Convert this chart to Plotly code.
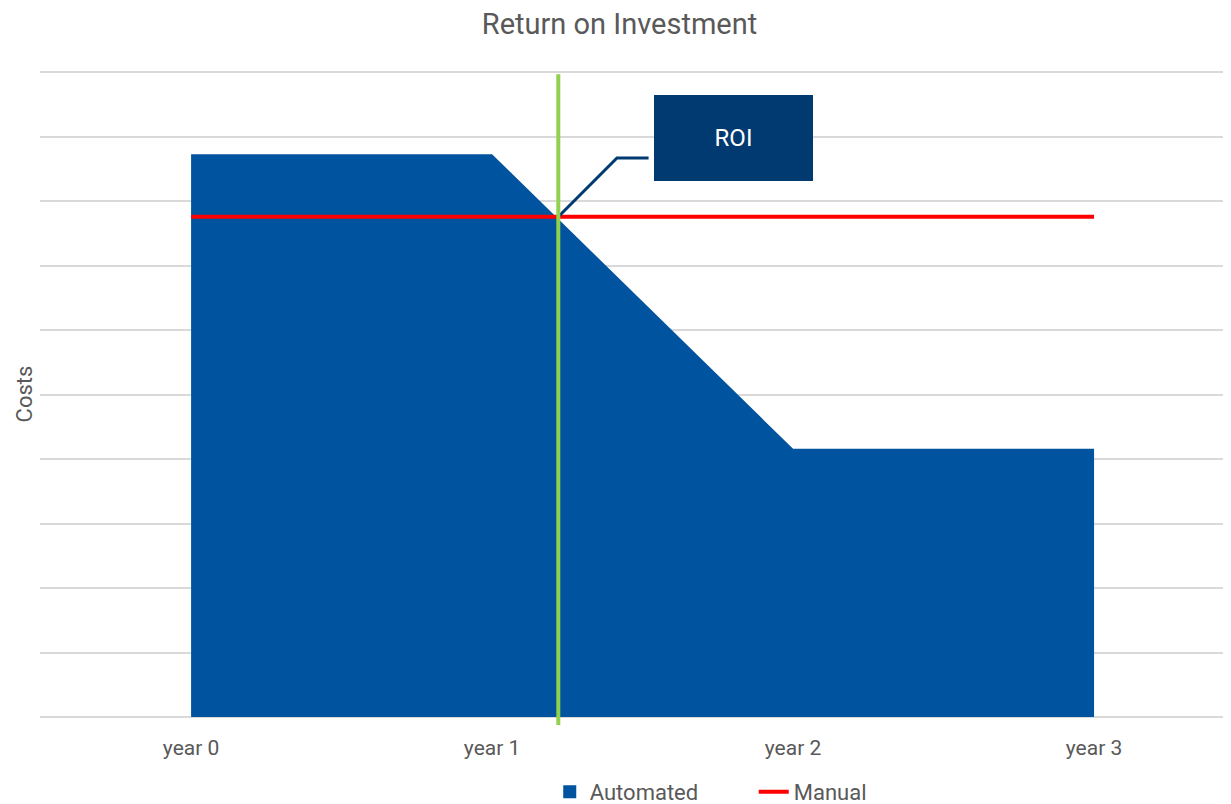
import plotly.graph_objects as go

years = ["year 0", "year 1", "year 2", "year 3"]
automated = [8.73, 8.73, 4.16, 4.16]
manual = [7.76, 7.76, 7.76, 7.76]
roi_x = 1.22
roi_label = "ROI"

xi = list(range(len(years)))
font = "Roboto"
gray = "#595959"
blue = "#00539F"

fig = go.Figure()
fig.add_trace(go.Scatter(
    x=xi, y=automated, name="Automated", mode="none",
    fill="tozeroy", fillcolor=blue, showlegend=False,
))
# legend entry for Automated (square swatch)
fig.add_trace(go.Scatter(
    x=[None], y=[None], name="Automated", mode="markers",
    marker=dict(symbol="square", size=13, color=blue),
))
fig.add_trace(go.Scatter(
    x=xi, y=manual, name="Manual", mode="lines",
    line=dict(color="#FF0000", width=4),
))
# ROI connector
fig.add_trace(go.Scatter(
    x=[roi_x, roi_x + 0.195, roi_x + 0.3], y=[manual[0], 8.67, 8.67],
    mode="lines", line=dict(color="#003A70", width=3), showlegend=False,
    hoverinfo="skip",
))

fig.add_shape(type="line", xref="x", yref="paper", x0=roi_x, x1=roi_x,
              y0=-0.0124, y1=0.995, line=dict(color="#92D050", width=4))

fig.add_annotation(x=roi_x + 0.582, y=8.98, xref="x", yref="y", text=roi_label,
                   showarrow=False, bgcolor="#003A70", width=157, height=84,
                   font=dict(family=font, size=24, color="white"),
                   borderpad=0, bordercolor="#003A70", borderwidth=1)

fig.update_layout(
    width=1223, height=796,
    margin=dict(l=32, r=0, t=63, b=87, autoexpand=False),
    paper_bgcolor="white", plot_bgcolor="white",
    title=dict(text="Return on Investment", x=0.5, xanchor="center", y=0.98,
               yanchor="middle", font=dict(family=font, size=29, color=gray)),
    xaxis=dict(tickmode="array", tickvals=xi, ticktext=years, automargin=False,
               range=[-0.502, 3.455], showgrid=False, zeroline=False,
               showline=False, ticks="", ticklabelstandoff=16,
               tickfont=dict(family=font, size=21, color=gray)),
    yaxis=dict(range=[0, 10.02], dtick=1, showgrid=True, gridcolor="#D9D9D9",
               gridwidth=1.5, showticklabels=False, zeroline=True,
               zerolinecolor="#D9D9D9", zerolinewidth=1.5, automargin=False,
               title=dict(text="Costs", standoff=0,
                          font=dict(family=font, size=22, color=gray))),
    legend=dict(orientation="h", x=0.428, xanchor="left", y=-0.116,
                yanchor="middle", font=dict(family=font, size=22, color=gray),
                itemwidth=30, entrywidth=159, tracegroupgap=0),
    showlegend=True,
)

fig.write_html("out.html")
